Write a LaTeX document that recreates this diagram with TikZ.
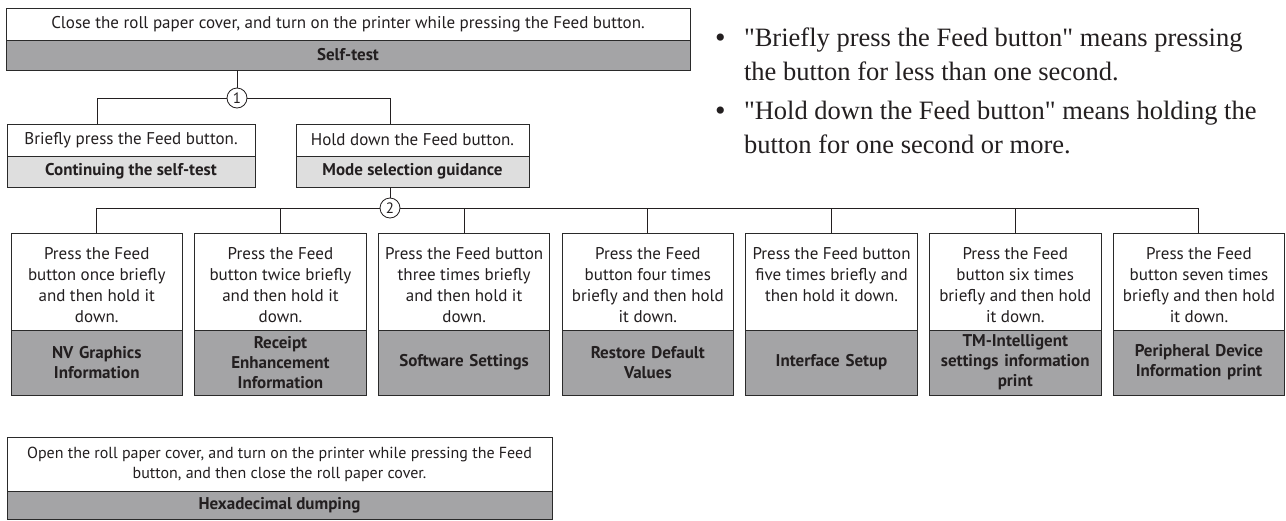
\documentclass[tikz,border=0pt]{standalone}
\usepackage{fontspec}
\setmainfont{PT Sans}
\newfontfamily\serifnote{Liberation Serif}
\definecolor{ink}{HTML}{231F20}
\definecolor{edge}{HTML}{2A2A2A}
\definecolor{dgray}{HTML}{A4A4A6}
\definecolor{lgray}{HTML}{DEDEDE}
\newcommand{\modebox}[4]{%
  \node[wbox, minimum width=171.5pt, minimum height=97pt] (t#1) at (#2,233) {};
  \node[wtxt] (tx#1) at ([yshift=-14pt]t#1.north) {#3};
  \node[gbox, minimum width=171.5pt, minimum height=65pt, text width=168pt] (b#1) at (#2,330) {#4};
}
\begin{document}
\begin{tikzpicture}[x=1pt,y=-1pt,
  every node/.style={inner sep=0pt, outer sep=0pt, text=ink},
  wbox/.style={draw=edge, line width=1pt, fill=white, anchor=north west, font=\fontsize{17}{21}\selectfont, align=center},
  gbox/.style={draw=edge, line width=1pt, fill=dgray, anchor=north west, font=\bfseries\fontsize{17}{20}\selectfont, align=center},
  lbox/.style={gbox, fill=lgray},
  wtxt/.style={anchor=north, font=\fontsize{17}{21}\selectfont, align=center},
  num/.style={circle, draw=ink, line width=0.8pt, fill=white, minimum size=20pt, font=\fontsize{15}{15}\selectfont},
  link/.style={draw=ink, line width=1pt},
  note/.style={anchor=base west, font=\serifnote\fontsize{26.5}{30}\selectfont},
  dot/.style={anchor=base west, font=\serifnote\fontsize{30}{30}\selectfont}]
\useasboundingbox (0,0) rectangle (1286,520);
% top
\node[wbox, minimum width=684pt, minimum height=32pt] (ct) at (6,8) {Close the roll paper cover, and turn on the printer while pressing the Feed button.};
\node[gbox, minimum width=684pt, minimum height=30pt] (self) at (6,40) {Self-test};
% level 1
\node[num] (c1) at (237,98) {1};
\coordinate (j1a) at (97,98);
\coordinate (j1b) at (390,98);
\node[wbox, minimum width=248pt, minimum height=32pt] (lt) at (7,124) {Briefly press the Feed button.};
\node[lbox, minimum width=248pt, minimum height=31pt] (lb) at (7,156) {Continuing the self-test};
\node[wbox, minimum width=233pt, minimum height=32pt] (rt) at (296,124) {Hold down the Feed button.};
\node[lbox, minimum width=233pt, minimum height=31pt] (rb) at (296,156) {Mode selection guidance};
\draw[link] (c1 |- self.south) -- (c1.north);
\draw[link] (c1.west) -- (j1a) -- (j1a |- lt.north);
\draw[link] (c1.east) -- (j1b) -- (j1b |- rt.north);
% level 2
\node[num] (c2) at (390,208) {2};
\modebox{1}{11}{Press the Feed\\button once briefly\\and then hold it\\down.}{NV Graphics\\Information}
\modebox{2}{194.7}{Press the Feed\\button twice briefly\\and then hold it\\down.}{Receipt\\Enhancement\\Information}
\modebox{3}{378.4}{Press the Feed button\\three times briefly\\and then hold it\\down.}{Software Settings}
\modebox{4}{562.1}{Press the Feed\\button four times\\briefly and then hold\\it down.}{Restore Default\\Values}
\modebox{5}{745.8}{Press the Feed button\\five times briefly and\\then hold it down.}{Interface Setup}
\modebox{6}{929.5}{Press the Feed\\button six times\\briefly and then hold\\it down.}{TM-Intelligent\\settings information\\print}
\modebox{7}{1113.2}{Press the Feed\\button seven times\\briefly and then hold\\it down.}{Peripheral Device\\Information print}
\draw[link] (c2 |- rb.south) -- (c2.north);
\draw[link] (c2.west) -- (t1.north |- c2) -- (t1.north);
\draw[link] (c2.east) -- (t7.north |- c2) -- (t7.north);
\foreach \i in {2,...,6} \draw[link] (t\i.north |- c2) -- (t\i.north);
% hex
\node[wbox, minimum width=545pt, minimum height=54pt, font=\fontsize{16}{20}\selectfont] (ht) at (7,437) {Open the roll paper cover, and turn on the printer while pressing the Feed\\button, and then close the roll paper cover.};
\node[gbox, minimum width=545pt, minimum height=28pt] (hb) at (7,491) {Hexadecimal dumping};
% notes
\node[dot] (m1) at (715,47) {•};
\node[note] (n1a) at (744,46) {"Briefly press the Feed button" means pressing};
\node[note] (n1b) at (744,80) {the button for less than one second.};
\node[dot] (m2) at (715,120) {•};
\node[note] (n2a) at (744,119) {"Hold down the Feed button" means holding the};
\node[note] (n2b) at (744,153) {button for one second or more.};
\end{tikzpicture}
\end{document}
